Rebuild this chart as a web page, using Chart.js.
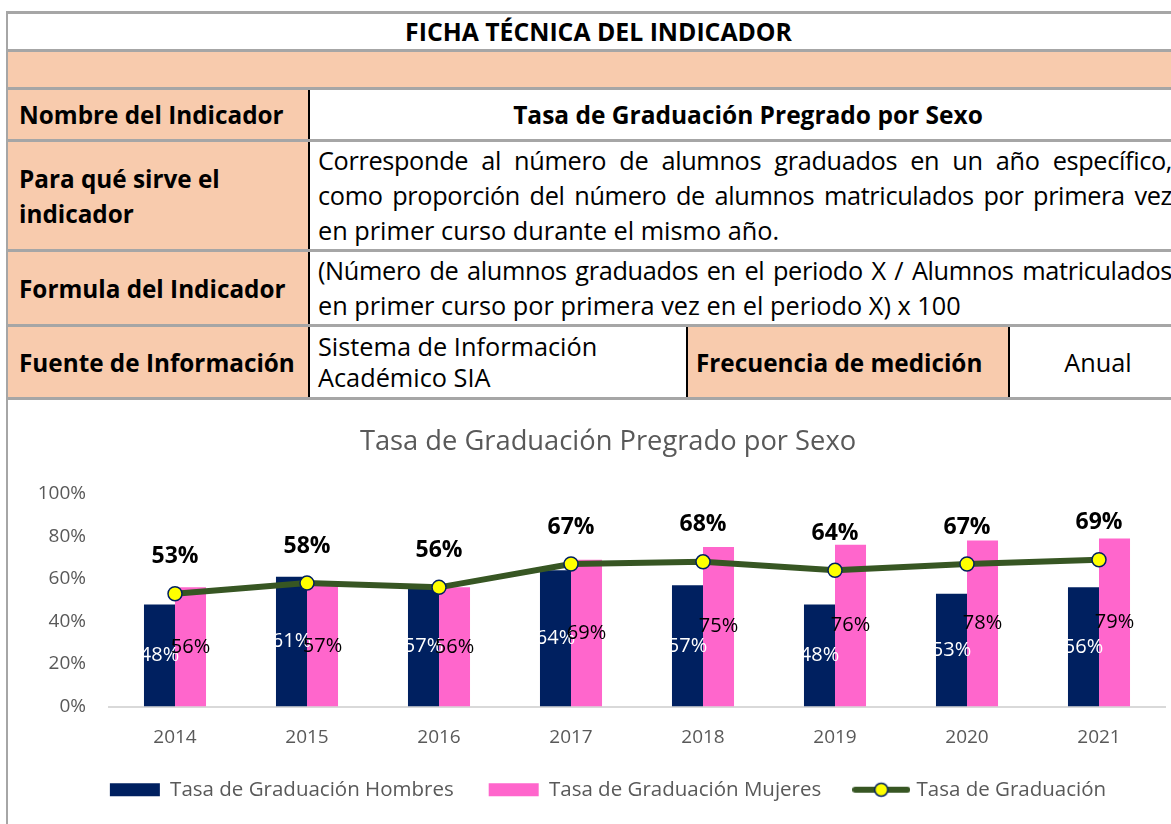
<!DOCTYPE html>
<html>
<head>
<meta charset="utf-8">
<script src="https://cdn.jsdelivr.net/npm/chart.js@4"></script>
<style>
  html, body { margin: 0; padding: 0; background: #fff; overflow: hidden; }
  body { width: 1171px; height: 824px; position: relative; font-family: "Open Sans", "Noto Sans", sans-serif; color: #000; }
  #sheet { position: absolute; left: 6px; top: 11px; width: 1210px; }
  table { border-collapse: collapse; table-layout: fixed; width: 1177px; }
  td, th { padding: 0 6px 0 8px; font-size: 25.3px; line-height: 35px; vertical-align: middle; border-top: 3px solid #a6a6a6; border-bottom: 3px solid #a6a6a6; }
  tr > :first-child { border-left: 2px solid #a6a6a6; padding-left: 11px; }
  th { background: #f8cbad; text-align: left; font-weight: bold; font-size: 24.3px; border-right: 2px solid #000; }
  .head { text-align: center; font-weight: bold; font-size: 24.8px; }
  .peach { background: #f8cbad; }
  .bold { font-weight: bold; font-size: 24.5px; }
  .center { text-align: center; }
  td.just { padding-right: 12px; }
  .just span { display: block; white-space: nowrap; letter-spacing: -0.35px; text-align: justify; text-align-last: justify; }
  .just span.last { text-align-last: left; letter-spacing: 0; }
  .dark-l { border-left: 2px solid #000; }
  #chartBox { position: relative; width: 1200px; height: 426px; border-left: 2px solid #a6a6a6; }
</style>
</head>
<body>
<div id="sheet">
  <table>
    <colgroup>
      <col style="width:302px"><col style="width:378px"><col style="width:322px"><col style="width:175px">
    </colgroup>
    <tr style="height:38px"><td colspan="4" class="head">FICHA TÉCNICA DEL INDICADOR</td></tr>
    <tr style="height:38px"><td colspan="4" class="peach"></td></tr>
    <tr style="height:52px"><th>Nombre del Indicador</th><td colspan="3" class="bold center">Tasa de Graduación Pregrado por Sexo</td></tr>
    <tr style="height:110px"><th>Para qué sirve el indicador</th>
      <td colspan="3" class="just"><span>Corresponde al número de alumnos graduados en un año específico,</span><span>como proporción del número de alumnos matriculados por primera vez</span><span class="last">en primer curso durante el mismo año.</span></td></tr>
    <tr style="height:75px"><th>Formula del Indicador</th>
      <td colspan="3" class="just"><span>(Número de alumnos graduados en el periodo X / Alumnos matriculados</span><span class="last">en primer curso por primera vez en el periodo X) x 100</span></td></tr>
    <tr style="height:73px"><th>Fuente de Información</th><td style="line-height:31px">Sistema de Información<br>Académico SIA</td><th class="dark-l">Frecuencia de medición</th><td class="center">Anual</td></tr>
  </table>
  <div id="chartBox"><canvas id="grafico"></canvas></div>
</div>

<script>
const years = ['2014', '2015', '2016', '2017', '2018', '2019', '2020', '2021'];
const hombres = [48, 61, 57, 64, 57, 48, 53, 56];
const mujeres = [56, 57, 56, 69, 75, 76, 78, 79];
const total = [53, 58, 56, 67, 68, 64, 67, 69];
const yTicks = [0, 20, 40, 60, 80, 100];

const gris = '#595959';
const fuente = '"Open Sans", "Noto Sans", sans-serif';

// icono de la leyenda para la linea: trazo verde con circulo amarillo
function lineIcon() {
    const c = document.createElement('canvas');
    c.width = 58; c.height = 18;
    const g = c.getContext('2d');
    g.strokeStyle = '#375623';
    g.lineWidth = 6;
    g.lineCap = 'round';
    g.beginPath(); g.moveTo(3, 9); g.lineTo(55, 9); g.stroke();
    g.fillStyle = '#ffff00';
    g.strokeStyle = '#002060';
    g.lineWidth = 1.5;
    g.beginPath(); g.arc(29, 9, 6.5, 0, Math.PI * 2); g.fill(); g.stroke();
    return c;
}

// etiquetas de valor encima/dentro de las marcas
const valueLabels = {
    id: 'valueLabels',
    afterDatasetsDraw(chart) {
        const ctx = chart.ctx;
        chart.data.datasets.forEach((ds, i) => {
            const meta = chart.getDatasetMeta(i);
            const st = ds.valueStyle;
            ctx.save();
            ctx.font = st.font;
            ctx.fillStyle = st.color;
            ctx.textAlign = 'center';
            ctx.textBaseline = 'middle';
            meta.data.forEach((el, j) => {
                let y;
                if (meta.type === 'bar') y = (el.y + el.base) / 2;
                else y = el.y - st.offset;
                ctx.fillText(ds.data[j] + '%', el.x, y);
            });
            ctx.restore();
        });
    }
};

const icono = lineIcon();

new Chart(document.getElementById('grafico'), {
    type: 'bar',
    data: {
        labels: years,
        datasets: [{
            label: 'Tasa de Graduación Hombres',
            data: hombres,
            backgroundColor: '#002060',
            order: 2,
            categoryPercentage: 0.47,
            barPercentage: 1,
            valueStyle: { font: '20px ' + fuente, color: '#ffffff' }
        }, {
            label: 'Tasa de Graduación Mujeres',
            data: mujeres,
            backgroundColor: '#ff66cc',
            order: 2,
            categoryPercentage: 0.47,
            barPercentage: 1,
            valueStyle: { font: '20px ' + fuente, color: '#000000' }
        }, {
            type: 'line',
            label: 'Tasa de Graduación',
            data: total,
            borderColor: '#375623',
            borderWidth: 6,
            pointBackgroundColor: '#ffff00',
            pointBorderColor: '#002060',
            pointBorderWidth: 1.5,
            pointRadius: 7,
            tension: 0,
            order: 1,
            valueStyle: { font: 'bold 23px ' + fuente, color: '#000000', offset: 37 }
        }]
    },
    options: {
        responsive: true,
        maintainAspectRatio: false,
        animation: false,
        layout: { padding: { left: 0, right: 0, bottom: 16 } },
        plugins: {
            title: {
                display: true,
                text: 'Tasa de Graduación Pregrado por Sexo',
                color: gris,
                font: { family: fuente, size: 27.3, weight: 'normal' },
                padding: { top: 26, bottom: 35 }
            },
            legend: {
                position: 'bottom',
                labels: {
                    color: gris,
                    font: { family: fuente, size: 20.5 },
                    usePointStyle: true,
                    pointStyleWidth: 50,
                    boxHeight: 13,
                    padding: 35,
                    sort: (a, b) => a.datasetIndex - b.datasetIndex,
                    generateLabels(chart) {
                        const items = Chart.defaults.plugins.legend.labels.generateLabels(chart);
                        items.forEach(it => {
                            it.lineWidth = 0;
                            it.pointStyle = it.datasetIndex === 2 ? icono : 'rect';
                        });
                        return items;
                    }
                }
            },
            tooltip: { enabled: false }
        },
        scales: {
            x: {
                afterFit(scale) { scale.height = 38; },
                grid: { display: false, drawTicks: false },
                border: { color: '#d9d9d9', width: 2 },
                ticks: { color: gris, font: { family: fuente, size: 19 }, padding: 20 }
            },
            y: {
                min: 0,
                max: 100,
                afterFit(scale) { scale.width = 101; },
                afterBuildTicks(scale) { scale.ticks = yTicks.map(v => ({ value: v })); },
                grid: { display: false, drawTicks: false },
                border: { display: false },
                ticks: { color: gris, font: { family: fuente, size: 19 }, padding: 23, callback: v => v + '%' }
            },
            // eje vacio a la derecha: deja margen sin descentrar titulo y leyenda
            margen: {
                position: 'right',
                min: 0,
                max: 100,
                afterFit(scale) { scale.width = 43; },
                grid: { display: false, drawTicks: false },
                border: { display: false },
                ticks: { display: false }
            }
        }
    },
    plugins: [valueLabels]
});
</script>
</body>
</html>
